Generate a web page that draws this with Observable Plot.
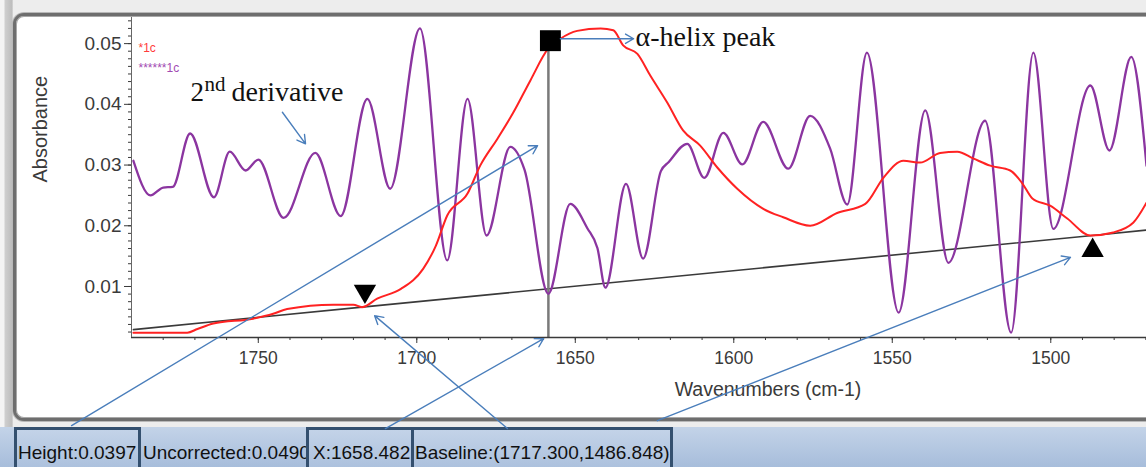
<!DOCTYPE html>
<html><head><meta charset="utf-8">
<script src="https://cdn.jsdelivr.net/npm/d3@7"></script>
<script src="https://cdn.jsdelivr.net/npm/@observablehq/plot@0.6"></script>
<style>
html,body{margin:0;padding:0;}
body{width:1146px;height:467px;position:relative;overflow:hidden;background:#ededed;font-family:Arial,"Liberation Sans",sans-serif;}
#leftband{position:absolute;left:0;top:0;width:13px;height:427px;background:linear-gradient(to right,#f4f4f4 0,#f4f4f4 4px,#cfcfcf 5px,#bdbdbd 12px,#e0e0e0 13px);}
#frame{position:absolute;left:13px;top:13px;width:1250px;height:408px;box-sizing:border-box;background:#fff;border:3px solid #6e6e6e;border-radius:11px;box-shadow:0 0 0 1px #b8b8b8, inset 0 0 0 1px #a8a8a8;}
#status{position:absolute;left:0;top:427px;width:1146px;height:40px;overflow:hidden;background:linear-gradient(#c3d3e8,#a7bddb);}
.st{position:absolute;top:0;font-size:19px;color:#111;white-space:nowrap;}
.plain{top:3px;line-height:46px;}
.box{box-sizing:border-box;height:52px;border:3px solid #34506f;background:linear-gradient(#c3d3e8,#a7bddb);line-height:46px;overflow:hidden;}
#chart{position:absolute;left:0;top:0;z-index:5;}
</style>
</head>
<body>
<div id="leftband"></div>
<div id="frame"></div>
<div id="status">
  <div class="st plain" style="left:143px;">Uncorrected:0.0490</div>
  <div class="st box" style="left:14px;width:127px;padding-left:1px;">Height:0.0397</div>
  <div class="st box" style="left:306px;width:108px;padding-left:4px;">X:1658.482</div>
  <div class="st box" style="left:411px;width:262px;padding-left:1px;">Baseline:(1717.300,1486.848)</div>
</div>
<div id="chart"></div>
<script>
// ---- data ----
const purpleW = [1789.4,1784,1780,1777,1771.5,1764,1759,1754,1750,1742,1732,1724,1715.6,1708.4,1699,1690.4,1684,1678,1670.5,1666,1658.5,1651.6,1646.2,1643,1640.5,1634,1628.6,1623,1620.5,1614.7,1609.3,1603.3,1597.3,1590.7,1582.8,1575.9,1569.6,1564.2,1558,1548,1539.6,1532.3,1520.7,1512.5,1505.5,1499.2,1487.5,1481.5,1474.6,1469.8];
const purpleA = [0.0307,0.0250,0.0263,0.0264,0.0352,0.0247,0.0322,0.0291,0.0309,0.0213,0.0320,0.0216,0.0409,0.0261,0.0525,0.0143,0.0409,0.0184,0.0330,0.0292,0.0088,0.0236,0.0196,0.0163,0.0098,0.0269,0.0146,0.0290,0.0305,0.0335,0.0279,0.0353,0.0301,0.0371,0.0294,0.0381,0.0327,0.0235,0.0485,0.0057,0.0390,0.0139,0.0373,0.0024,0.0485,0.0195,0.0431,0.0324,0.0478,0.0299];

const redW = [1789.4,1772.4,1769.2,1764.2,1751.6,1745.3,1740.9,1726.3,1720,1717.3,1712.5,1705,1698,1694,1690.4,1684,1680,1674.6,1669.6,1664.2,1658.5,1654.7,1649.4,1642,1638,1634.9,1630.4,1626.3,1621,1616,1610.6,1605.2,1598.9,1590.7,1584.4,1575.9,1567.4,1558.5,1552.8,1546.5,1541.2,1534.9,1529.5,1524.5,1519.1,1512.8,1509,1505.8,1500.2,1494.8,1487.5,1480.3,1474,1469.8];
const redA = [0.0024,0.0024,0.0030,0.0039,0.0047,0.0055,0.0063,0.0070,0.0070,0.0066,0.0080,0.0096,0.0129,0.0167,0.0217,0.0253,0.0299,0.0343,0.0386,0.0439,0.0492,0.0508,0.0521,0.0525,0.0522,0.0497,0.0483,0.0447,0.0403,0.0357,0.0332,0.0296,0.0261,0.0228,0.0214,0.0200,0.0221,0.0236,0.0279,0.0307,0.0304,0.0320,0.0322,0.0311,0.0299,0.0291,0.0270,0.0245,0.0233,0.0212,0.0184,0.0189,0.0205,0.0238];

const baselineW = [1789.4, 1717.3, 1486.8, 1469.8];
const baselineA = [0.0029, 0.0066, 0.0184, 0.0193];

const peakW = 1658.482, peakA = 0.0490;
const highlightW = [1658.5, 1654.7];
const highlightA = [0.0492, 0.0508];

const xTicks = [1750, 1700, 1650, 1600, 1550, 1500];
const yTicks = [0.01, 0.02, 0.03, 0.04, 0.05];
const xDomain = [1790, 1469.8];
const yDomain = [0.0016, 0.0543];

// annotation arrows (wavenumber / absorbance coordinates)
const arrowX1 = [1742.4, 1654.7, 1808.9, 1709.9, 1671.4, 1624.1];
const arrowY1 = [0.0387, 0.0508, -0.0129, -0.0134, -0.0134, -0.0121];
const arrowX2 = [1735.1, 1631.6, 1661.9, 1660.0, 1713.3, 1493.8];
const arrowY2 = [0.0335, 0.0508, 0.0332, 0.0014, 0.0052, 0.0148];

// ---- build tables ----
const purple = purpleW.map((w, i) => ({w, a: purpleA[i]}));
const red = redW.map((w, i) => ({w, a: redA[i]}));
const baseline = baselineW.map((w, i) => ({w, a: baselineA[i]}));
const highlight = highlightW.map((w, i) => ({w, a: highlightA[i]}));
const arrows = arrowX1.map((x1, i) => ({x1, y1: arrowY1[i], x2: arrowX2[i], y2: arrowY2[i]}));
const xMinor = d3.range(1780, 1469, -10);
const yMinor = d3.range(0.0025, 0.0541, 0.00125);

const axisColor = "#3a3a3a";
const serif = "'Times New Roman','Liberation Serif',serif";

const chart = Plot.plot({
  width: 1146, height: 467,
  marginLeft: 131, marginRight: 0, marginTop: 17, marginBottom: 130,
  style: {background: "transparent", overflow: "visible", fontFamily: "Arial,'Liberation Sans',sans-serif"},
  x: {domain: xDomain},
  y: {domain: yDomain},
  marks: [
    Plot.line(baseline, {x: "w", y: "a", stroke: "#3a3a3a", strokeWidth: 1.6, clip: true}),
    Plot.ruleX([peakW], {y1: yDomain[0], y2: peakA, stroke: "#7a7a7a", strokeWidth: 2.5}),
    Plot.line(purple, {x: "w", y: "a", curve: "monotone-x", stroke: "#8b35a0", strokeWidth: 2.3, clip: true}),
    Plot.line(red, {x: "w", y: "a", curve: "monotone-x", stroke: "#ff2222", strokeWidth: 2, clip: true}),
    Plot.line(highlight, {x: "w", y: "a", stroke: "#1fc8c8", strokeWidth: 2}),
    // axes
    Plot.ruleY([yDomain[0]], {stroke: axisColor, strokeWidth: 1.5}),
    Plot.ruleX([xDomain[0]], {stroke: "#666", strokeWidth: 1}),
    Plot.axisX(xTicks, {anchor: "bottom", tickSize: 6, tickPadding: 8, tickFormat: d => String(d), fontSize: 17.5, fill: axisColor, stroke: axisColor, label: null}),
    Plot.axisX(xMinor, {anchor: "bottom", tickSize: 3, fill: "none", stroke: axisColor, label: null}),
    Plot.axisY(yTicks, {anchor: "left", tickSize: 7, tickPadding: 3, tickFormat: d => d.toFixed(2), fontSize: 19, fill: axisColor, stroke: axisColor, label: null}),
    Plot.axisY(yMinor, {anchor: "left", tickSize: 3, fill: "none", stroke: axisColor, label: null}),
    Plot.text(["Wavenumbers (cm-1)"], {frameAnchor: "bottom", text: d => d, dx: 129, dy: 58, fontSize: 19.5, fill: axisColor}),
    Plot.text(["Absorbance"], {frameAnchor: "left", text: d => d, rotate: -90, dx: -91, dy: 5, fontSize: 20, fill: axisColor}),
    // legend
    Plot.text(["*1c"], {frameAnchor: "top-left", text: d => d, dx: 7, dy: 26, textAnchor: "start", fontSize: 12, fill: "#ff3b3b"}),
    Plot.text(["******1c"], {frameAnchor: "top-left", text: d => d, dx: 7, dy: 46, textAnchor: "start", fontSize: 12, fill: "#a24ab2"}),
    // markers
    Plot.dot([{w: peakW, a: peakA}], {x: "w", y: "a", symbol: "square", r: 11.8, fill: "black", dx: 2, dy: -9}),
    Plot.dot([baseline[1]], {x: "w", y: "a", symbol: "triangle", r: 8.3, fill: "black", rotate: 180, dx: 3, dy: -16}),
    Plot.dot([baseline[2]], {x: "w", y: "a", symbol: "triangle", r: 8.3, fill: "black", dy: 15}),
    // annotations
    Plot.text(["2"], {frameAnchor: "top-left", text: d => d, dx: 59, dy: 83, textAnchor: "start", lineAnchor: "bottom", fontSize: 27, fontFamily: serif, fill: "#111"}),
    Plot.text(["nd"], {frameAnchor: "top-left", text: d => d, dx: 73, dy: 73, textAnchor: "start", lineAnchor: "bottom", fontSize: 21, fontFamily: serif, fill: "#111"}),
    Plot.text(["derivative"], {frameAnchor: "top-left", text: d => d, dx: 100, dy: 83, textAnchor: "start", lineAnchor: "bottom", fontSize: 28, fontFamily: serif, fill: "#111"}),
    Plot.text(["α-helix peak"], {frameAnchor: "top-left", text: d => d, dx: 504, dy: 28, textAnchor: "start", lineAnchor: "bottom", fontSize: 28, fontFamily: serif, fill: "#111"}),
    Plot.arrow(arrows, {x1: "x1", y1: "y1", x2: "x2", y2: "y2", stroke: "#4a7ebb", strokeWidth: 1.4, headLength: 10})
  ]
});
document.getElementById("chart").appendChild(chart);
</script>
</body></html>
